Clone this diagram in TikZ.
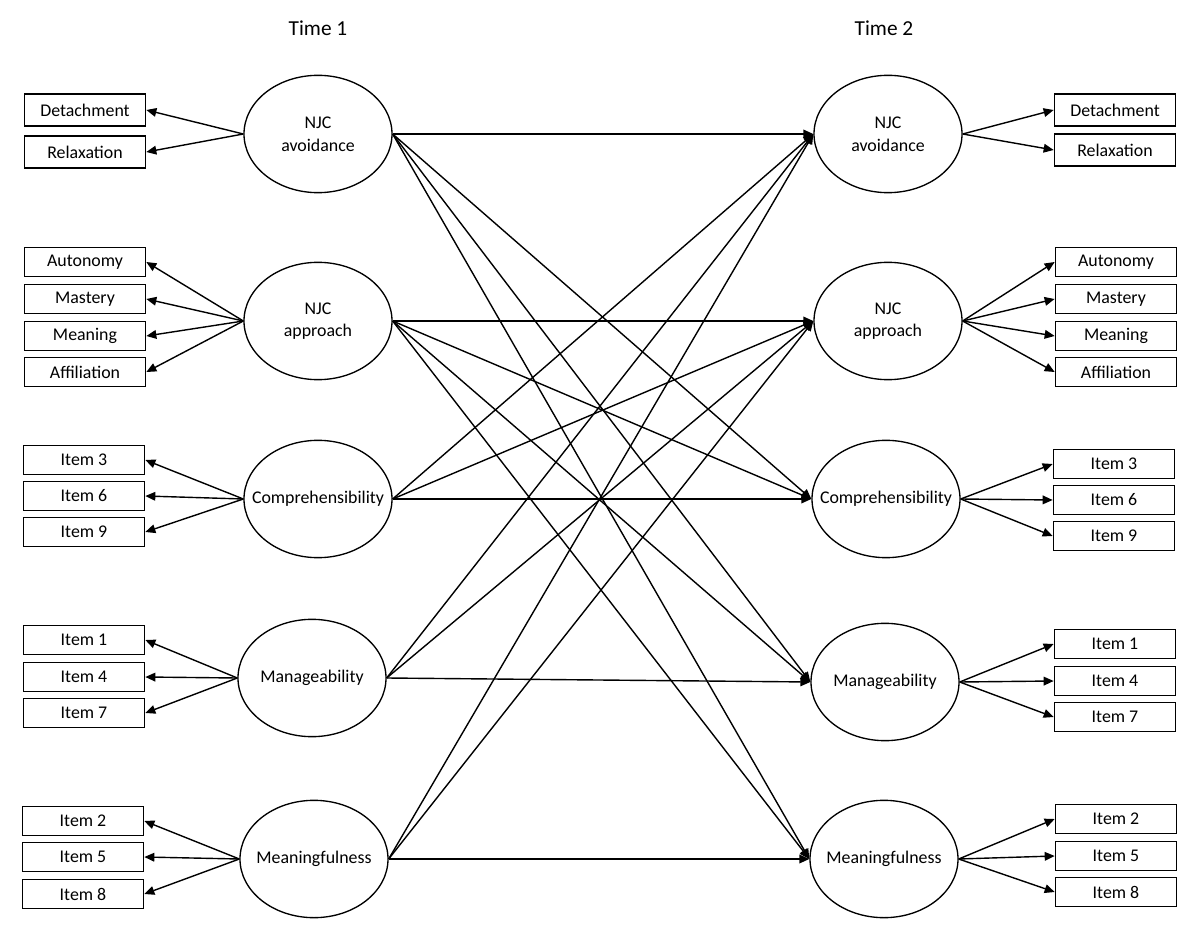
\documentclass[tikz,border=0pt]{standalone}
\usepackage{fontspec}
\setmainfont{Carlito}
\usetikzlibrary{arrows.meta,shapes.geometric}

\begin{document}
\begin{tikzpicture}[x=0.75pt,y=-0.75pt,
  latent/.style={ellipse,draw,line width=1pt,minimum width=111pt,minimum height=88pt,
                 inner xsep=-30pt,inner ysep=-20pt,align=center,font=\fontsize{13.4}{17}\selectfont},
  indicator/.style={rectangle,draw,line width=1pt,minimum width=91pt,minimum height=21.5pt,
                    inner sep=1pt,font=\fontsize{13.4}{15}\selectfont},
  arr/.style={-{Triangle[length=7.5pt,width=6.5pt]},line width=1.05pt},
  timelabel/.style={font=\fontsize{16}{18}\selectfont}
]
\useasboundingbox (0,0) rectangle (1200,941);

\node[timelabel] (T1) at (318,28) {Time 1};
\node[timelabel] (T2) at (884,28) {Time 2};

% Time 1 factors
\node[latent] (L1) at (318,134) {NJC\\avoidance};
\node[latent] (L2) at (318,321) {NJC\\approach};
\node[latent] (L3) at (318,499) {Comprehensibility};
\node[latent] (L4) at (312,678) {Manageability};
\node[latent] (L5) at (314,859) {Meaningfulness};

% Time 2 factors
\node[latent] (R1) at (888,134) {NJC\\avoidance};
\node[latent] (R2) at (888,321) {NJC\\approach};
\node[latent] (R3) at (886,499) {Comprehensibility};
\node[latent] (R4) at (885,682) {Manageability};
\node[latent] (R5) at (884,859) {Meaningfulness};

% Time 1 indicators
\node[indicator, minimum height=24pt] (L1a) at (85,110) {Detachment};
\node[indicator, minimum height=24pt] (L1b) at (85,152) {Relaxation};
\node[indicator] (L2a) at (85,262) {Autonomy};
\node[indicator] (L2b) at (85,299) {Mastery};
\node[indicator] (L2c) at (85,336) {Meaning};
\node[indicator] (L2d) at (85,372) {Affiliation};
\node[indicator] (L3a) at (84,460) {Item 3};
\node[indicator] (L3b) at (84,496) {Item 6};
\node[indicator] (L3c) at (84,532) {Item 9};
\node[indicator] (L4a) at (84,640) {Item 1};
\node[indicator] (L4b) at (84,677) {Item 4};
\node[indicator] (L4c) at (84,713) {Item 7};
\node[indicator] (L5a) at (83,821) {Item 2};
\node[indicator] (L5b) at (83,857) {Item 5};
\node[indicator] (L5c) at (83,894) {Item 8};

% Time 2 indicators
\node[indicator, minimum height=24pt] (R1a) at (1115,110) {Detachment};
\node[indicator, minimum height=24pt] (R1b) at (1115,150) {Relaxation};
\node[indicator] (R2a) at (1116,262) {Autonomy};
\node[indicator] (R2b) at (1116,299) {Mastery};
\node[indicator] (R2c) at (1116,336) {Meaning};
\node[indicator] (R2d) at (1116,372) {Affiliation};
\node[indicator] (R3a) at (1114,464) {Item 3};
\node[indicator] (R3b) at (1114,500) {Item 6};
\node[indicator] (R3c) at (1114,536) {Item 9};
\node[indicator] (R4a) at (1115,644) {Item 1};
\node[indicator] (R4b) at (1115,681) {Item 4};
\node[indicator] (R4c) at (1115,717) {Item 7};
\node[indicator] (R5a) at (1116,819) {Item 2};
\node[indicator] (R5b) at (1116,856) {Item 5};
\node[indicator] (R5c) at (1116,892) {Item 8};

% loadings
\foreach \f/\list in {1/{a,b},2/{a,b,c,d},3/{a,b,c},4/{a,b,c},5/{a,b,c}}{
  \foreach \i in \list{
    \draw[arr] (L\f.west) -- (L\f\i.east);
    \draw[arr] (R\f.east) -- (R\f\i.west);
  }
}

% stability and cross-lagged paths
\foreach \s/\t in {1/1,1/3,1/4,1/5, 2/2,2/3,2/4,2/5,
                   3/1,3/2,3/3, 4/1,4/2,4/4, 5/1,5/2,5/5}{
  \draw[arr] (L\s.east) -- (R\t.west);
}

\end{tikzpicture}
\end{document}
